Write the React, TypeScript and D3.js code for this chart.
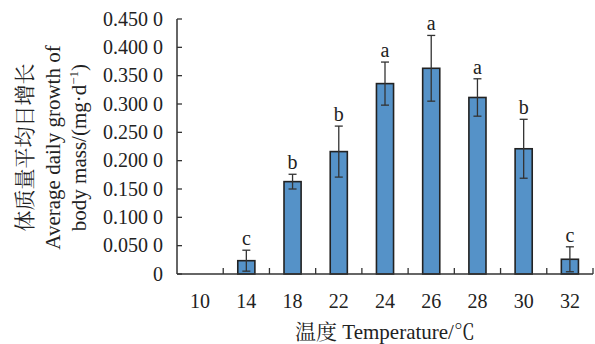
import React, { useEffect, useRef } from "react";
import * as d3 from "d3";

const temps = ["10", "14", "18", "22", "24", "26", "28", "30", "32"];
const growth = [0, 0.0235, 0.163, 0.216, 0.336, 0.363, 0.3115, 0.221, 0.026];
const errors = [0, 0.0185, 0.013, 0.045, 0.038, 0.058, 0.033, 0.052, 0.022];
const letters = ["", "c", "b", "b", "a", "a", "a", "b", "c"];
const yTicks = [0, 0.05, 0.1, 0.15, 0.2, 0.25, 0.3, 0.35, 0.4, 0.45];

const FONT = "'Liberation Serif', 'Noto Serif CJK SC', serif";

export default function App() {
  const svgRef = useRef<SVGSVGElement>(null);

  useEffect(() => {
    const svg = d3.select(svgRef.current);
    svg.selectAll("*").remove();

    const left = 177;
    const right = 593;
    const top = 19;
    const bottom = 274;

    const x = d3
      .scaleBand()
      .domain(temps)
      .range([left, right])
      .paddingInner(0.63)
      .paddingOuter(0.315);
    const y = d3.scaleLinear().domain([0, 0.45]).range([bottom, top]);
    const step = x.step();
    const bw = x.bandwidth();

    const g = svg.append("g").attr("font-family", FONT).attr("fill", "#222");

    // bars
    g.selectAll("rect.bar")
      .data(growth)
      .join("rect")
      .attr("class", "bar")
      .attr("x", (_, i) => x(temps[i])!)
      .attr("y", (d) => y(d))
      .attr("width", bw)
      .attr("height", (d) => bottom - y(d))
      .attr("fill", "#5592c8")
      .attr("stroke", (d) => (d > 0 ? "#222" : "none"))
      .attr("stroke-width", 1.6);

    // error bars + letters
    const eb = g
      .selectAll("g.err")
      .data(
        growth
          .map((v, i) => ({ v, e: errors[i], t: temps[i], l: letters[i] }))
          .filter((d) => d.v > 0)
      )
      .join("g")
      .attr("class", "err")
      .attr("transform", (d) => `translate(${x(d.t)! + bw / 2},0)`);

    eb.append("line")
      .attr("y1", (d) => y(Math.max(0, d.v - d.e)))
      .attr("y2", (d) => y(d.v + d.e))
      .attr("stroke", "#333")
      .attr("stroke-width", 1.3);
    eb.append("line")
      .attr("x1", -4)
      .attr("x2", 4)
      .attr("y1", (d) => y(d.v + d.e))
      .attr("y2", (d) => y(d.v + d.e))
      .attr("stroke", "#333")
      .attr("stroke-width", 1.3);
    eb.append("line")
      .attr("x1", -4)
      .attr("x2", 4)
      .attr("y1", (d) => y(Math.max(0, d.v - d.e)))
      .attr("y2", (d) => y(Math.max(0, d.v - d.e)))
      .attr("stroke", "#333")
      .attr("stroke-width", 1.3);
    eb.append("text")
      .attr("y", (d) => y(d.v + d.e) - 5)
      .attr("text-anchor", "middle")
      .attr("font-size", 20)
      .text((d) => d.l);

    // y axis
    g.append("line")
      .attr("x1", left)
      .attr("x2", left)
      .attr("y1", top)
      .attr("y2", bottom)
      .attr("stroke", "#333")
      .attr("stroke-width", 1.5);
    g.selectAll("line.ytick")
      .data(yTicks)
      .join("line")
      .attr("class", "ytick")
      .attr("x1", left)
      .attr("x2", left + 5)
      .attr("y1", (d) => y(d))
      .attr("y2", (d) => y(d))
      .attr("stroke", "#333")
      .attr("stroke-width", 1.3);
    g.selectAll("text.ylab")
      .data(yTicks)
      .join("text")
      .attr("class", "ylab")
      .attr("x", 163)
      .attr("y", (d) => y(d) + 6.5)
      .attr("text-anchor", "end")
      .attr("font-size", 20)
      .text((d) => (d === 0 ? "0" : d3.format(".3f")(d) + " 0"));

    // x axis
    g.append("line")
      .attr("x1", left)
      .attr("x2", right)
      .attr("y1", bottom)
      .attr("y2", bottom)
      .attr("stroke", "#333")
      .attr("stroke-width", 1.5);
    g.selectAll("line.xtick")
      .data(temps)
      .join("line")
      .attr("class", "xtick")
      .attr("x1", (d) => x(d)! + bw / 2 + step / 2)
      .attr("x2", (d) => x(d)! + bw / 2 + step / 2)
      .attr("y1", bottom)
      .attr("y2", bottom - 6)
      .attr("stroke", "#333")
      .attr("stroke-width", 1.3);
    g.selectAll("text.xlab")
      .data(temps)
      .join("text")
      .attr("class", "xlab")
      .attr("x", (d) => x(d)! + bw / 2)
      .attr("y", 307.5)
      .attr("text-anchor", "middle")
      .attr("font-size", 20)
      .text((d) => d);

    // x title
    g.append("text")
      .attr("x", 385)
      .attr("y", 339)
      .attr("text-anchor", "middle")
      .attr("font-size", 21)
      .text("温度 Temperature/℃");

    // y title
    const yt = g
      .append("text")
      .attr("transform", "translate(0,147.5) rotate(-90)")
      .attr("text-anchor", "middle")
      .attr("font-size", 21);
    yt.append("tspan").attr("x", 0).attr("y", 32).text("体质量平均日增长");
    yt.append("tspan").attr("x", 0).attr("y", 60).text("Average daily growth of");
    yt.append("tspan").attr("x", 0).attr("y", 86).text("body mass/(mg·d");
    yt.append("tspan").attr("dy", -8).attr("font-size", 13).text("−1");
    yt.append("tspan").attr("dy", 8).text(")");
  }, []);

  return (
    <svg
      ref={svgRef}
      width={595}
      height={344}
      style={{ position: "fixed", left: 0, top: 0, background: "#fff" }}
    />
  );
}
